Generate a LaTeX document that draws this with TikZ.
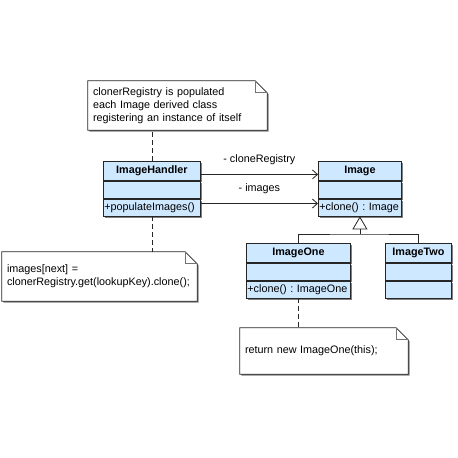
\documentclass[tikz,border=0pt]{standalone}
\usepackage{fontspec}
\setmainfont{Liberation Sans}
\usetikzlibrary{arrows.meta, positioning, shadows, backgrounds}
\frenchspacing

\definecolor{classfill}{RGB}{206,232,255}

% outline of a UML note around a text node
\newcommand{\drawnote}[1]{%
    \draw[noteshape] (#1.north west) -- ([xshift=-12pt]#1.north east)
        -- ([yshift=-12pt]#1.north east) -- (#1.south east) -- (#1.south west) -- cycle;
    \draw[notefold] ([xshift=-12pt]#1.north east) |- ([yshift=-12pt]#1.north east);}

\begin{document}
\begin{tikzpicture}[
        x=1pt, y=-1pt,
        font=\fontsize{10.8}{13}\selectfont,
        boxshadow/.style={drop shadow={shadow xshift=1.5pt, shadow yshift=-1.5pt,
                          fill=black!50, opacity=1}},
        classhead/.style={draw=black!85, line width=0.8pt, fill=classfill, boxshadow,
                          anchor=north west, minimum width=#1, minimum height=19pt,
                          inner sep=0pt, font=\fontsize{10.8}{13}\selectfont\bfseries},
        classpart/.style={draw=black!85, line width=0.8pt, fill=classfill, boxshadow,
                          minimum width=#1, minimum height=17pt, inner sep=0pt},
        classops/.style={draw=black!85, line width=0.8pt, fill=classfill, boxshadow,
                         text width=#1, minimum height=17pt, inner xsep=1pt,
                         inner ysep=0pt, align=left,
                         execute at begin node=\mbox\bgroup, execute at end node=\egroup},
        notetext/.style={text width=#1, align=left, inner xsep=5pt, inner ysep=0pt},
        noteshape/.style={draw=black!85, line width=0.8pt, fill=white, boxshadow},
        notefold/.style={draw=black!55, line width=1.2pt},
        notelink/.style={draw=black!85, line width=0.8pt, dash pattern=on 5pt off 3pt},
        assoc/.style={draw=black!85, line width=0.8pt, -{Straight Barb[length=5pt, width=9pt]}},
        inherit/.style={draw=black!85, line width=0.8pt, -{Triangle[open, length=13pt, width=15pt]}},
        plain/.style={draw=black!85, line width=0.8pt}
    ]
    \useasboundingbox (0,0) rectangle (458,458);

    % classes
    \node[classhead=97pt] (ihname) at (103,161) {ImageHandler};
    \node[classpart=97pt, below=0pt of ihname] (ihattr) {};
    \node[classops=95pt, below=0pt of ihattr] (ihops) {+populateImages()};

    \node[classhead=83pt] (imgname) at (318,161) {Image};
    \node[classpart=83pt, below=0pt of imgname] (imgattr) {};
    \node[classops=81pt, below=0pt of imgattr] (imgops) {+clone() : Image};

    \node[classhead=104pt] (ioname) at (246,243) {ImageOne};
    \node[classpart=104pt, below=0pt of ioname] (ioattr) {};
    \node[classops=102pt, below=0pt of ioattr] (ioops) {+clone() : ImageOne};

    \node[classhead=66pt] (itname) at (385,243) {ImageTwo};
    \node[classpart=66pt, below=0pt of itname] (itattr) {};
    \node[classpart=66pt, below=0pt of itattr] (itops) {};

    % notes
    \node[notetext=169pt, minimum height=49pt] (regnote) at (177.5,105.5)
        {clonerRegistry is populated\\each Image derived class\\registering an instance of itself};
    \node[notetext=185pt, minimum height=49pt] (popnote) at (99.5,276.5)
        {images[next] =\\clonerRegistry.get(lookupKey).clone();};
    \node[notetext=158pt, minimum height=46pt] (clonenote) at (324,351)
        {return new ImageOne(this);};
    \begin{scope}[on background layer]
        \drawnote{regnote}
        \drawnote{popnote}
        \drawnote{clonenote}
    \end{scope}

    % associations
    \draw[assoc] ([yshift=-3.5pt]ihname.east) -- ([yshift=-3.5pt]imgname.west)
        node[midway, above=9pt, inner sep=0pt] (reglabel) {- cloneRegistry};
    \draw[assoc] ([yshift=4pt]ihops.east) -- ([yshift=4pt]imgops.west)
        node[midway, above=9pt, inner sep=0pt] (imglabel) {- images};

    % generalisation
    \coordinate (split) at (imgops.south |- 0,234);
    \draw[plain] (ioname.north) |- (split) -| (itname.north);
    \draw[inherit] (split) -- (imgops.south);

    % note links
    \draw[notelink] (ihname.north) -- (ihname.north |- regnote.south);
    \draw[notelink] (ihops.south) -- (ihops.south |- popnote.north);
    \draw[notelink] (ioops.south) -- (ioops.south |- clonenote.north);
\end{tikzpicture}
\end{document}
